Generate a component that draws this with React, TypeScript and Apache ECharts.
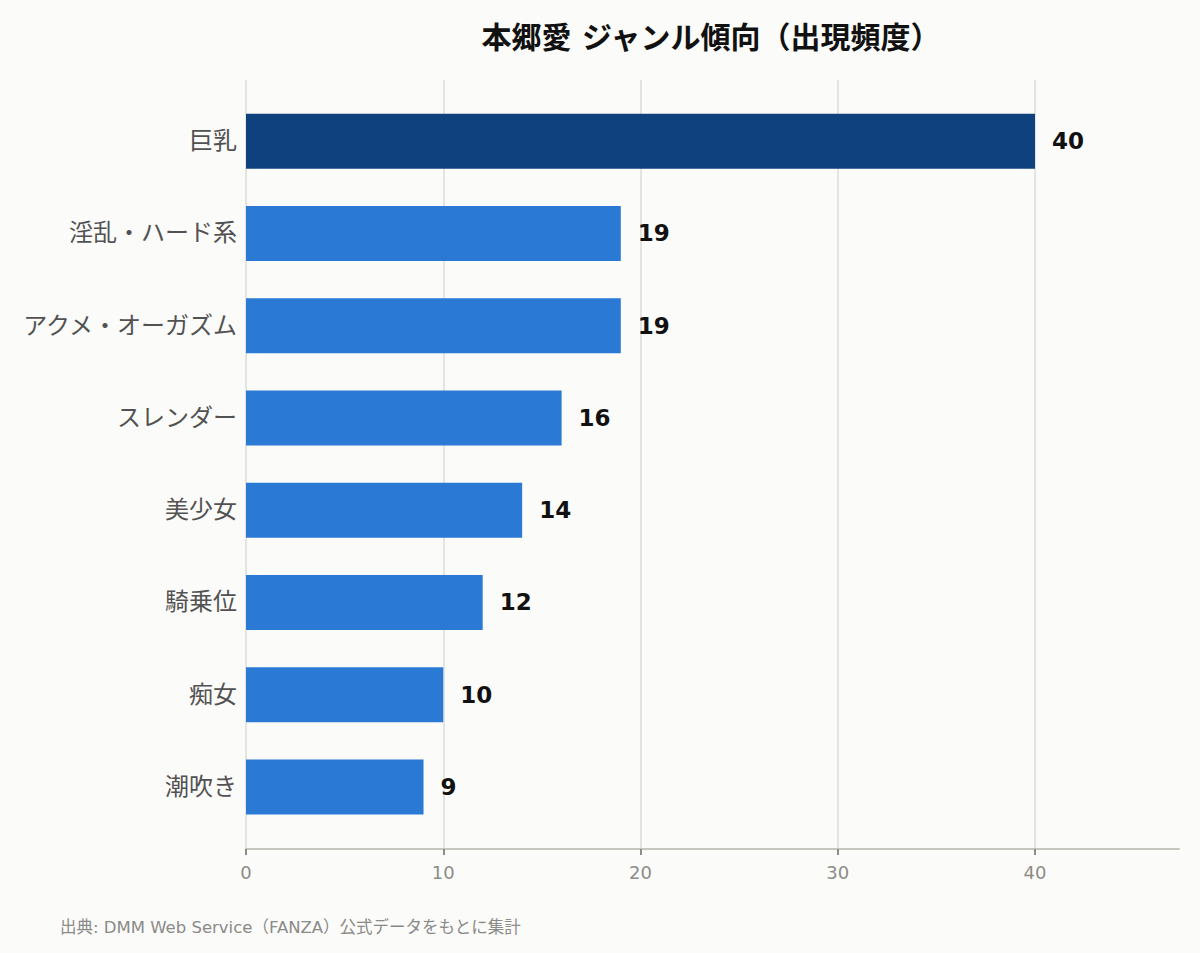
import { useEffect, useRef } from 'react';
import * as echarts from 'echarts';

// Genre counts, top to bottom as shown.
const genres = [
  '巨乳',
  '淫乱・ハード系',
  'アクメ・オーガズム',
  'スレンダー',
  '美少女',
  '騎乗位',
  '痴女',
  '潮吹き',
];
const counts = [40, 19, 19, 16, 14, 12, 10, 9];
const xTicks = [0, 10, 20, 30, 40];
const X_MAX = 47.3;

const TITLE = '本郷愛 ジャンル傾向（出現頻度）';
const SOURCE = '出典: DMM Web Service（FANZA）公式データをもとに集計';

const FONT = '"DejaVu Sans", "Noto Sans CJK JP", sans-serif';
const TOP_COLOR = '#10417f';
const BAR_COLOR = '#2979d5';

export default function App() {
  const ref = useRef<HTMLDivElement | null>(null);

  useEffect(() => {
    if (!ref.current) return;
    const chart = echarts.init(ref.current, undefined, { renderer: 'svg' });
    const top = Math.max(...counts);

    chart.setOption({
      animation: false,
      backgroundColor: '#fbfbf9',
      textStyle: { fontFamily: FONT },
      title: {
        text: TITLE,
        left: 706,
        top: 17,
        textAlign: 'center',
        textStyle: {
          fontFamily: FONT,
          fontSize: 30,
          fontWeight: 'bold',
          color: '#111',
        },
      },
      graphic: [
        {
          type: 'text',
          left: 60,
          top: 919,
          style: {
            text: SOURCE,
            fontFamily: FONT,
            fontSize: 16.5,
            fill: '#8a8a88',
          },
        },
      ],
      // grid 0 carries the value axis and gridlines, grid 1 the bars
      grid: [
        { left: 246, right: 21, top: 80, bottom: 104 },
        { left: 246, right: 21, top: 95, bottom: 120 },
      ],
      xAxis: [
        {
          type: 'value',
          gridIndex: 0,
          min: 0,
          max: X_MAX,
          interval: 10,
          axisLine: { show: true, lineStyle: { color: '#c6c6be', width: 2 } },
          axisTick: {
            show: true,
            length: 6,
            customValues: xTicks,
            lineStyle: { color: '#8c8c88', width: 2 },
          },
          axisLabel: {
            customValues: xTicks,
            margin: 14,
            fontSize: 18,
            color: '#8c8c88',
            fontFamily: FONT,
          },
          splitLine: {
            show: true,
            lineStyle: { color: '#e4e4e0', width: 2 },
          },
        },
        {
          type: 'value',
          gridIndex: 1,
          min: 0,
          max: X_MAX,
          show: false,
        },
      ],
      yAxis: [
        { type: 'category', gridIndex: 0, show: false, data: genres },
        {
          type: 'category',
          gridIndex: 1,
          inverse: true,
          data: genres,
          axisLine: { show: false },
          axisTick: { show: false },
          axisLabel: {
            margin: 9,
            fontSize: 24,
            color: '#525252',
            fontFamily: FONT,
          },
        },
      ],
      series: [
        {
          type: 'bar',
          xAxisIndex: 1,
          yAxisIndex: 1,
          barWidth: 55,
          data: counts.map((v) => ({
            value: v,
            itemStyle: { color: v === top ? TOP_COLOR : BAR_COLOR },
          })),
          label: {
            show: true,
            position: 'right',
            distance: 17,
            fontSize: 23,
            fontWeight: 'bold',
            color: '#111',
            fontFamily: FONT,
          },
        },
      ],
    });

    return () => chart.dispose();
  }, []);

  return (
    <div
      ref={ref}
      style={{ position: 'fixed', left: 0, top: 0, width: 1200, height: 953 }}
    />
  );
}
